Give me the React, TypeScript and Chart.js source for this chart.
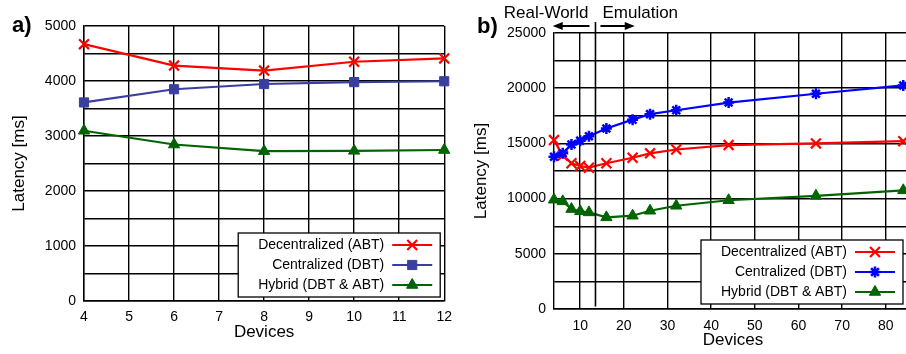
import React, { useEffect, useRef } from 'react';
import { Chart, registerables } from 'chart.js';
import { drawPoint } from 'chart.js/helpers';

Chart.register(...registerables);

const FONT = "'Liberation Sans', Arial, Helvetica, sans-serif";

// ---------- data ----------
const SERIES_LABELS = ['Decentralized (ABT)', 'Centralized (DBT)', 'Hybrid (DBT & ABT)'];

// panel a)
const XA = [4, 6, 8, 10, 12];
const A_DECENTRAL = [4670, 4280, 4190, 4350, 4410];
const A_CENTRAL = [3610, 3850, 3945, 3980, 3995];
const A_HYBRID = [3095, 2845, 2725, 2730, 2745];
const XA_MIN = 4;
const XA_MAX = 12;
const YA_MAX = 5000;

// panel b)
const XB = [4, 6, 8, 10, 12, 16, 22, 26, 32, 44, 64, 84];
const B_DECENTRAL = [15300, 13900, 13200, 12950, 12800, 13200, 13700, 14100, 14450, 14850, 15000, 15200];
const B_CENTRAL = [13800, 14100, 14900, 15250, 15650, 16350, 17150, 17650, 18000, 18700, 19500, 20250];
const B_HYBRID = [9900, 9750, 9050, 8850, 8750, 8300, 8450, 8900, 9350, 9850, 10250, 10750];
const XB_MIN = 4;
const XB_MAX = 86;
const XB_TICKS = [10, 20, 30, 40, 50, 60, 70, 80];
const YB_MAX = 25000;

// real-world / emulation divider (in device units)
const DIVIDER_X = 13.5;
const REAL_WORLD_ARROW_TO = 3.7;
const EMULATION_ARROW_TO = 22.5;

// ---------- helpers ----------
function makeDataset(label, xs, ys, color, pointStyle, radius, pointBw, order) {
  return {
    label,
    data: xs.map((x, i) => ({ x, y: ys[i] })),
    borderColor: color,
    backgroundColor: color,
    pointBackgroundColor: color,
    pointBorderColor: color,
    pointStyle,
    pointRadius: radius,
    pointHoverRadius: radius,
    pointBorderWidth: pointBw,
    borderWidth: 2.2,
    tension: 0,
    clip: false,
    order,
  };
}

function yScale(max, step, labelEvery, width, titlePadTop) {
  return {
    type: 'linear',
    min: 0,
    max,
    ticks: {
      stepSize: step,
      padding: 8,
      color: '#000',
      font: { family: FONT, size: 14 },
      callback: (v) => (v % labelEvery === 0 ? String(v) : ''),
    },
    grid: { color: '#000', lineWidth: 1.4, drawTicks: false },
    border: { display: true, color: '#000', width: 1.4 },
    title: {
      display: true,
      text: 'Latency [ms]',
      color: '#000',
      font: { family: FONT, size: 17 },
      padding: { top: titlePadTop, bottom: 0 },
    },
    afterFit: (s) => {
      s.width = width;
    },
  };
}

function xScale(min, max, height, titlePadBottom, tickValues, tickPad) {
  return {
    type: 'linear',
    min,
    max,
    ticks: {
      stepSize: 1,
      padding: tickPad,
      autoSkip: false,
      maxRotation: 0,
      color: '#000',
      font: { family: FONT, size: 14 },
      callback: (v) => String(v),
    },
    afterBuildTicks: tickValues
      ? (s) => {
          s.ticks = tickValues.map((v) => ({ value: v }));
        }
      : undefined,
    grid: { color: '#000', lineWidth: 1.4, drawTicks: false },
    border: { display: true, color: '#000', width: 1.4 },
    title: {
      display: true,
      text: 'Devices',
      color: '#000',
      font: { family: FONT, size: 17 },
      padding: { top: 0, bottom: titlePadBottom },
    },
    afterFit: (s) => {
      s.height = height;
    },
  };
}

function makeLegendPlugin(id, rightInset, bottomInset) {
  return {
    id,
    afterDraw(chart) {
      const { ctx, chartArea } = chart;
      const w = 202;
      const h = 64;
      const right = chartArea.right - rightInset;
      const bottom = chartArea.bottom - bottomInset;
      const left = right - w;
      const top = bottom - h;
      ctx.save();
      ctx.fillStyle = '#fff';
      ctx.fillRect(left, top, w, h);
      ctx.strokeStyle = '#000';
      ctx.lineWidth = 1.3;
      ctx.strokeRect(left, top, w, h);
      ctx.font = `14px ${FONT}`;
      ctx.textBaseline = 'middle';
      ctx.textAlign = 'right';
      chart.data.datasets.forEach((d, i) => {
        const y = top + 12 + i * 20;
        ctx.fillStyle = '#000';
        ctx.fillText(d.label, left + 146, y);
        ctx.strokeStyle = d.borderColor;
        ctx.lineWidth = 2.2;
        ctx.beginPath();
        ctx.moveTo(left + 154, y);
        ctx.lineTo(left + 194, y);
        ctx.stroke();
        ctx.fillStyle = d.backgroundColor;
        ctx.lineWidth = d.pointBorderWidth;
        drawPoint(
          ctx,
          { pointStyle: d.pointStyle, radius: d.pointRadius, borderWidth: d.pointBorderWidth, rotation: 0 },
          left + 174,
          y
        );
      });
      ctx.restore();
    },
  };
}

function makePanelLabelPlugin(id, text, x, y) {
  return {
    id,
    afterDraw(chart) {
      const { ctx } = chart;
      ctx.save();
      ctx.font = `bold 22px ${FONT}`;
      ctx.fillStyle = '#000';
      ctx.textAlign = 'left';
      ctx.textBaseline = 'middle';
      ctx.fillText(text, x, y);
      ctx.restore();
    },
  };
}

function drawArrow(ctx, fromX, toX, y) {
  const dir = toX > fromX ? 1 : -1;
  const headLen = 10;
  ctx.beginPath();
  ctx.moveTo(fromX, y);
  ctx.lineTo(toX - dir * headLen * 0.6, y);
  ctx.stroke();
  ctx.beginPath();
  ctx.moveTo(toX, y);
  ctx.lineTo(toX - dir * headLen, y - 4);
  ctx.lineTo(toX - dir * headLen, y + 4);
  ctx.closePath();
  ctx.fill();
}

const dividerPlugin = {
  id: 'divider',
  afterDraw(chart) {
    const { ctx, chartArea } = chart;
    const x = chart.scales.x;
    const px = x.getPixelForValue(DIVIDER_X);
    ctx.save();
    ctx.strokeStyle = '#000';
    ctx.fillStyle = '#000';
    ctx.lineWidth = 1.6;
    ctx.beginPath();
    ctx.moveTo(px, chartArea.top - 11);
    ctx.lineTo(px, chartArea.bottom - 2.5);
    ctx.stroke();
    const ay = chartArea.top - 7;
    ctx.lineWidth = 2;
    drawArrow(ctx, px - 6, x.getPixelForValue(REAL_WORLD_ARROW_TO), ay);
    drawArrow(ctx, px + 5, x.getPixelForValue(EMULATION_ARROW_TO), ay);
    ctx.font = `17px ${FONT}`;
    ctx.textBaseline = 'middle';
    ctx.textAlign = 'right';
    ctx.fillText('Real-World', px - 7, chartArea.top - 20);
    ctx.textAlign = 'left';
    ctx.fillText('Emulation', px + 7, chartArea.top - 20);
    ctx.restore();
  },
};

// ---------- component ----------
export default function App() {
  const refA = useRef(null);
  const refB = useRef(null);

  useEffect(() => {
    const chartA = new Chart(refA.current, {
      type: 'line',
      data: {
        datasets: [
          makeDataset(SERIES_LABELS[0], XA, A_DECENTRAL, '#ff0000', 'crossRot', 7, 2.2, 1),
          makeDataset(SERIES_LABELS[1], XA, A_CENTRAL, '#3a3f9f', 'rect', 6.5, 1, 2),
          makeDataset(SERIES_LABELS[2], XA, A_HYBRID, '#006400', 'triangle', 6.5, 1, 3),
        ],
      },
      options: {
        animation: false,
        responsive: false,
        events: [],
        layout: { padding: { top: 26, right: 14, left: 0, bottom: 0 } },
        plugins: { legend: { display: false }, tooltip: { enabled: false } },
        scales: {
          x: xScale(XA_MIN, XA_MAX, 53, 11, null, 8),
          y: yScale(YA_MAX, 500, 1000, 84, 9),
        },
      },
      plugins: [makeLegendPlugin('legendA', 4, 4), makePanelLabelPlugin('labelA', 'a)', 12, 26)],
    });

    const chartB = new Chart(refB.current, {
      type: 'line',
      data: {
        datasets: [
          makeDataset(SERIES_LABELS[0], XB, B_DECENTRAL, '#ff0000', 'crossRot', 7, 2.2, 2),
          makeDataset(SERIES_LABELS[1], XB, B_CENTRAL, '#0000ff', 'star', 5.5, 2.5, 1),
          makeDataset(SERIES_LABELS[2], XB, B_HYBRID, '#006400', 'triangle', 6.5, 1, 3),
        ],
      },
      options: {
        animation: false,
        responsive: false,
        events: [],
        layout: { padding: { top: 33, right: 20, left: 0, bottom: 0 } },
        plugins: { legend: { display: false }, tooltip: { enabled: false } },
        scales: {
          x: xScale(XB_MIN, XB_MAX, 45, 3, XB_TICKS, 9),
          y: yScale(YB_MAX, 2500, 5000, 94, 11),
        },
      },
      plugins: [dividerPlugin, makeLegendPlugin('legendB', 9, 5), makePanelLabelPlugin('labelB', 'b)', 17, 27)],
    });

    return () => {
      chartA.destroy();
      chartB.destroy();
    };
  }, []);

  return (
    <div
      style={{
        position: 'fixed',
        left: 0,
        top: 0,
        width: 906,
        height: 354,
        overflow: 'hidden',
        background: '#fff',
      }}
    >
      <canvas
        ref={refA}
        width={460}
        height={354}
        style={{ position: 'absolute', left: 0, top: 0, width: 460, height: 354 }}
      />
      <canvas
        ref={refB}
        width={472}
        height={354}
        style={{ position: 'absolute', left: 460, top: 0, width: 472, height: 354 }}
      />
    </div>
  );
}
